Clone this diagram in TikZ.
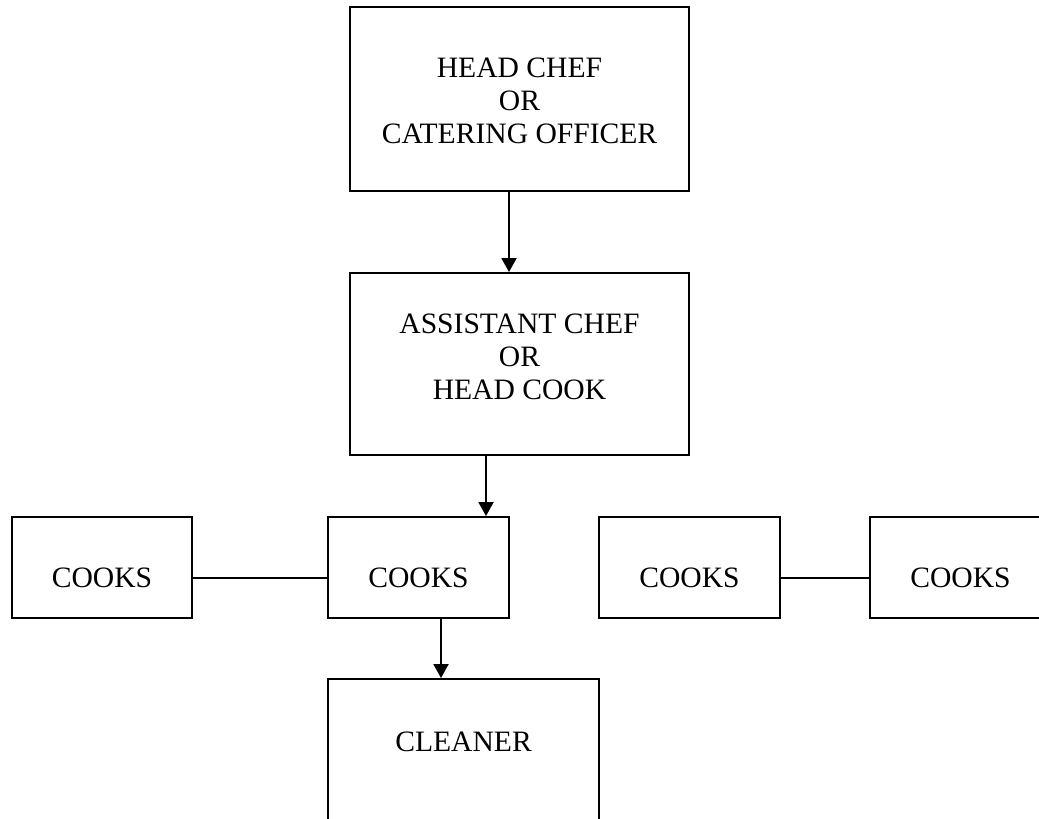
\documentclass[tikz,border=0pt]{standalone}
\usepackage{fontspec}
\setmainfont{Liberation Serif}
\usetikzlibrary{arrows.meta}
\begin{document}
\begin{tikzpicture}[x=1pt,y=-1pt,
  box/.style={draw,line width=1.9pt,rectangle,inner sep=0pt},
  lbl/.style={inner sep=0pt,align=center,font=\fontsize{29.6}{33}\selectfont},
  link/.style={line width=1.9pt},
  arr/.style={line width=1.9pt,-{Triangle[length=14pt,width=15pt]}}]
\useasboundingbox (0,0) rectangle (1039,819);
\clip (0,0) rectangle (1039,819);

% management boxes
\node[box,minimum width=339pt,minimum height=184pt] (hc) at (519.5,99) {};
\node[lbl] (hct) at (519.5,101) {HEAD CHEF\\OR\\CATERING OFFICER};
\node[box,minimum width=339pt,minimum height=182pt] (ac) at (519.5,364) {};
\node[lbl] (act) at (519.5,357) {ASSISTANT CHEF\\OR\\HEAD COOK};

% cooks row
\node[box,minimum width=180pt,minimum height=101pt] (c1) at (102,567.5) {};
\node[lbl] (c1t) at (102,578) {COOKS};
\node[box,minimum width=181pt,minimum height=101pt] (c2) at (418.5,567.5) {};
\node[lbl] (c2t) at (418.5,578) {COOKS};
\node[box,minimum width=181pt,minimum height=101pt] (c3) at (689.5,567.5) {};
\node[lbl] (c3t) at (689.5,578) {COOKS};
\node[box,minimum width=181pt,minimum height=101pt] (c4) at (960.5,567.5) {};
\node[lbl] (c4t) at (960.5,578) {COOKS};

% cleaner
\node[box,minimum width=271pt,minimum height=200pt] (cl) at (463.5,779) {};
\node[lbl] (clt) at (463.5,742) {CLEANER};

% connectors
\draw[arr] ([xshift=-10.5pt]hc.south) -- ([xshift=-10.5pt]ac.north);
\draw[arr] ([xshift=-33.5pt]ac.south) -- ([xshift=67.5pt]c2.north);
\draw[arr] ([xshift=22.5pt]c2.south) -- ([xshift=-22.5pt]cl.north);
\draw[link] (c1.east |- c1t.center) -- (c2.west |- c1t.center);
\draw[link] (c3.east |- c3t.center) -- (c4.west |- c3t.center);
\end{tikzpicture}
\end{document}
